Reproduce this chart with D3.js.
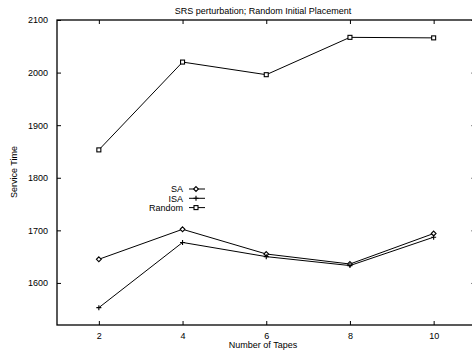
<!DOCTYPE html>
<html><head><meta charset="utf-8">
<script src="https://cdn.jsdelivr.net/npm/d3@7"></script>
<style>body{margin:0;background:#fff;} svg{display:block;} text{font-family:"Liberation Sans",Arial,sans-serif;font-size:9px;fill:#000;}</style>
</head><body>
<script>
const tapes = [2, 4, 6, 8, 10];
const saValues = [1645, 1702, 1655, 1636, 1694];
const isaValues = [1553, 1677, 1650, 1633, 1687];
const randomValues = [1853, 2020, 1996, 2067, 2066];
const yTicks = [1600, 1700, 1800, 1900, 2000, 2100];
const seriesNames = ["SA", "ISA", "Random"];
const title = "SRS perturbation; Random Initial Placement";
const xLabel = "Number of Tapes";
const yLabel = "Service Time";

const W = 472, H = 354;
const svg = d3.select("body").append("svg").attr("width", W).attr("height", H);
const x = d3.scaleLinear().domain([1, 11]).range([57, 475.5]);
const y = d3.scaleLinear().domain([1520, 2100]).range([325, 20]);

const g = svg.append("g");
g.append("rect").attr("x", x(1)).attr("y", y(2100)).attr("width", x(11) - x(1)).attr("height", y(1520) - y(2100))
  .attr("fill", "none").attr("stroke", "#000").attr("stroke-width", 1.3);

const tl = 4;
const xb = g.append("g").attr("transform", `translate(0,${y(1520)})`)
  .call(d3.axisBottom(x).tickValues(tapes).tickSize(-tl).tickPadding(8).tickFormat(d3.format("d")));
xb.select(".domain").remove();
const xt = g.append("g").attr("transform", `translate(0,${y(2100)})`)
  .call(d3.axisTop(x).tickValues(tapes).tickSize(-tl).tickFormat(""));
xt.select(".domain").remove();
const yl = g.append("g").attr("transform", `translate(${x(1)},0)`)
  .call(d3.axisLeft(y).tickValues(yTicks).tickSize(-tl).tickPadding(9).tickFormat(d3.format("d")));
yl.select(".domain").remove();
const yr = g.append("g").attr("transform", `translate(${x(11)},0)`)
  .call(d3.axisRight(y).tickValues(yTicks).tickSize(-tl).tickFormat(""));
yr.select(".domain").remove();
svg.selectAll(".tick line").attr("stroke", "#000");
svg.selectAll(".tick text").attr("font-size", 9).attr("font-family", "Liberation Sans, Arial, sans-serif").attr("fill", "#000");

svg.append("text").attr("x", 263).attr("y", 14).attr("text-anchor", "middle").attr("fill", "#000").text(title);
svg.append("text").attr("x", 263).attr("y", 348).attr("text-anchor", "middle").attr("fill", "#000").text(xLabel);
svg.append("text").attr("transform", "translate(17,172) rotate(-90)").attr("text-anchor", "middle").attr("fill", "#000").text(yLabel);

const line = d3.line().x((d, i) => x(tapes[i])).y(d => y(d));
const seriesData = [saValues, isaValues, randomValues];

function marker(sel, type, cx, cy) {
  if (type === 0) {
    sel.append("path").attr("d", `M${cx},${cy-2.4}L${cx+2.4},${cy}L${cx},${cy+2.4}L${cx-2.4},${cy}Z`)
      .attr("fill", "#fff").attr("stroke", "#000").attr("stroke-width", 1.1);
  } else if (type === 1) {
    sel.append("path").attr("d", `M${cx-2.5},${cy}H${cx+2.5}M${cx},${cy-2.5}V${cy+2.5}`)
      .attr("stroke", "#000").attr("stroke-width", 1.1);
  } else {
    sel.append("rect").attr("x", cx - 2).attr("y", cy - 2).attr("width", 4).attr("height", 4)
      .attr("fill", "#fff").attr("stroke", "#000").attr("stroke-width", 1.1);
  }
}

seriesData.forEach((vals, s) => {
  svg.append("path").datum(vals).attr("d", line).attr("fill", "none").attr("stroke", "#000").attr("stroke-width", 1);
  const mg = svg.append("g");
  vals.forEach((v, i) => marker(mg, s, x(tapes[i]), y(v)));
});

const lg = svg.append("g");
seriesNames.forEach((n, i) => {
  const ly = 189 + i * 9.3;
  lg.append("text").attr("x", 183).attr("y", ly + 3.2).attr("text-anchor", "end").attr("fill", "#000").text(n);
  lg.append("line").attr("x1", 189).attr("x2", 205).attr("y1", ly).attr("y2", ly).attr("stroke", "#000").attr("stroke-width", 1);
  marker(lg, i, 196, ly);
});
</script>
</body></html>
